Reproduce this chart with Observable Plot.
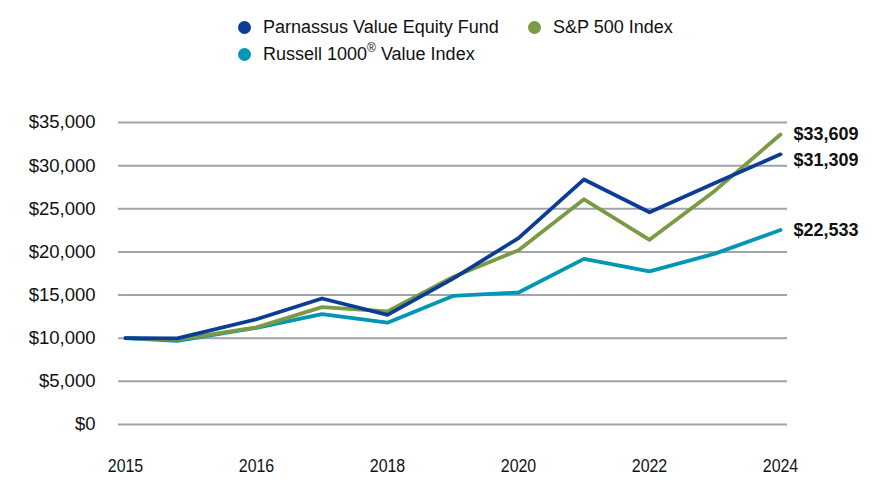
<!DOCTYPE html>
<html>
<head>
<meta charset="utf-8">
<script src="https://cdn.jsdelivr.net/npm/d3@7"></script>
<script src="https://cdn.jsdelivr.net/npm/@observablehq/plot@0.6"></script>
<style>
  html, body { margin: 0; padding: 0; background: #fff; }
  body { width: 888px; height: 492px; overflow: hidden; font-family: "Liberation Sans", Arial, sans-serif; color: #111; }
  #legend { position: relative; height: 75px; width: 888px; }
  .item { position: absolute; font-size: 18px; line-height: 20px; white-space: nowrap; }
  .dot { position: absolute; width: 13px; height: 13px; border-radius: 50%; }
  #chart svg { display: block; }
</style>
</head>
<body>
<div id="legend"></div>
<div id="chart"></div>
<script>
// ---- data ----
const periods = [2014, 2014.79, 2016, 2017, 2018, 2019, 2020, 2021, 2022, 2023, 2024];
const tickPositions = [2014, 2016, 2018, 2020, 2022, 2024];
const tickLabels = ["2015", "2016", "2018", "2020", "2022", "2024"];
const yTicks = [0, 5000, 10000, 15000, 20000, 25000, 30000, 35000];

const seriesNames = ["Parnassus Value Equity Fund", "S&P 500 Index", "Russell 1000® Value Index"];
const parnassus = [10000, 9980, 12200, 14600, 12700, 16900, 21600, 28400, 24600, 28000, 31309];
const sp500     = [10000, 9850, 11250, 13600, 13100, 17100, 20200, 26100, 21400, 27100, 33609];
const russell   = [10000, 9700, 11200, 12800, 11800, 14900, 15300, 19200, 17750, 19800, 22533];
const colors = ["#0B3C96", "#7A9A44", "#0096B4"];

// ---- legend ----
const legend = document.getElementById("legend");
const legendPos = [
  {left: 238, top: 17},
  {left: 528, top: 17},
  {left: 238, top: 44}
];
seriesNames.forEach((name, i) => {
  const p = legendPos[i];
  const dot = document.createElement("div");
  dot.className = "dot";
  dot.style.left = p.left + "px";
  dot.style.top = (p.top + 3.5) + "px";
  dot.style.background = colors[i];
  legend.appendChild(dot);
  const t = document.createElement("div");
  t.className = "item";
  t.style.left = (p.left + 25) + "px";
  t.style.top = p.top + "px";
  if (name.includes("®")) {
    const parts = name.split("®");
    t.innerHTML = parts[0] + '<sup style="font-size:12px;line-height:0;position:relative;top:-1px">®</sup>' + parts[1];
  } else {
    t.textContent = name;
  }
  legend.appendChild(t);
});

// ---- chart ----
const rows = (vals, s) => vals.map((v, i) => ({x: periods[i], y: v, s}));
const pData = rows(parnassus, seriesNames[0]);
const sData = rows(sp500, seriesNames[1]);
const rData = rows(russell, seriesNames[2]);
const fmt = d => "$" + d3.format(",")(d);
const last = arr => arr[arr.length - 1];

const chart = Plot.plot({
  width: 888,
  height: 417,
  marginLeft: 118,
  marginRight: 101,
  marginTop: 47,
  marginBottom: 68,
  style: {fontFamily: '"Liberation Sans", Arial, sans-serif', color: "#111", background: "#fff"},
  x: {domain: [2014, 2024], insetLeft: 7, insetRight: 7},
  y: {domain: [0, 35000]},
  marks: [
    Plot.ruleY(yTicks, {stroke: "#A0A3AD", strokeWidth: 2}),
    Plot.line(rData, {x: "x", y: "y", stroke: colors[2], strokeWidth: 3.8}),
    Plot.line(sData, {x: "x", y: "y", stroke: colors[1], strokeWidth: 3.8}),
    Plot.line(pData, {x: "x", y: "y", stroke: colors[0], strokeWidth: 3.8}),
    Plot.axisY({ticks: yTicks, tickFormat: fmt, tickSize: 0, tickPadding: 23, fontSize: 18.5, label: null}),
    Plot.axisX({ticks: tickPositions, tickFormat: d => tickLabels[tickPositions.indexOf(d)], tickSize: 0, tickPadding: 34, fontSize: 19, label: null}),
    Plot.text([last(sData)], {x: "x", y: "y", text: d => fmt(d.y), dx: 13, textAnchor: "start", fontSize: 18, fontWeight: "bold", fill: "#111"}),
    Plot.text([last(pData)], {x: "x", y: "y", text: d => fmt(d.y), dx: 13, dy: 6, textAnchor: "start", fontSize: 18, fontWeight: "bold", fill: "#111"}),
    Plot.text([last(rData)], {x: "x", y: "y", text: d => fmt(d.y), dx: 13, textAnchor: "start", fontSize: 18, fontWeight: "bold", fill: "#111"})
  ]
});
document.getElementById("chart").appendChild(chart);
// reference renders the year labels slightly condensed
d3.select(chart).selectAll('g[aria-label="x-axis tick label"] text').each(function() {
  const el = d3.select(this);
  const tr = el.attr("transform") || "";
  el.attr("transform", tr + " scale(0.84,1)");
});
</script>
</body>
</html>
